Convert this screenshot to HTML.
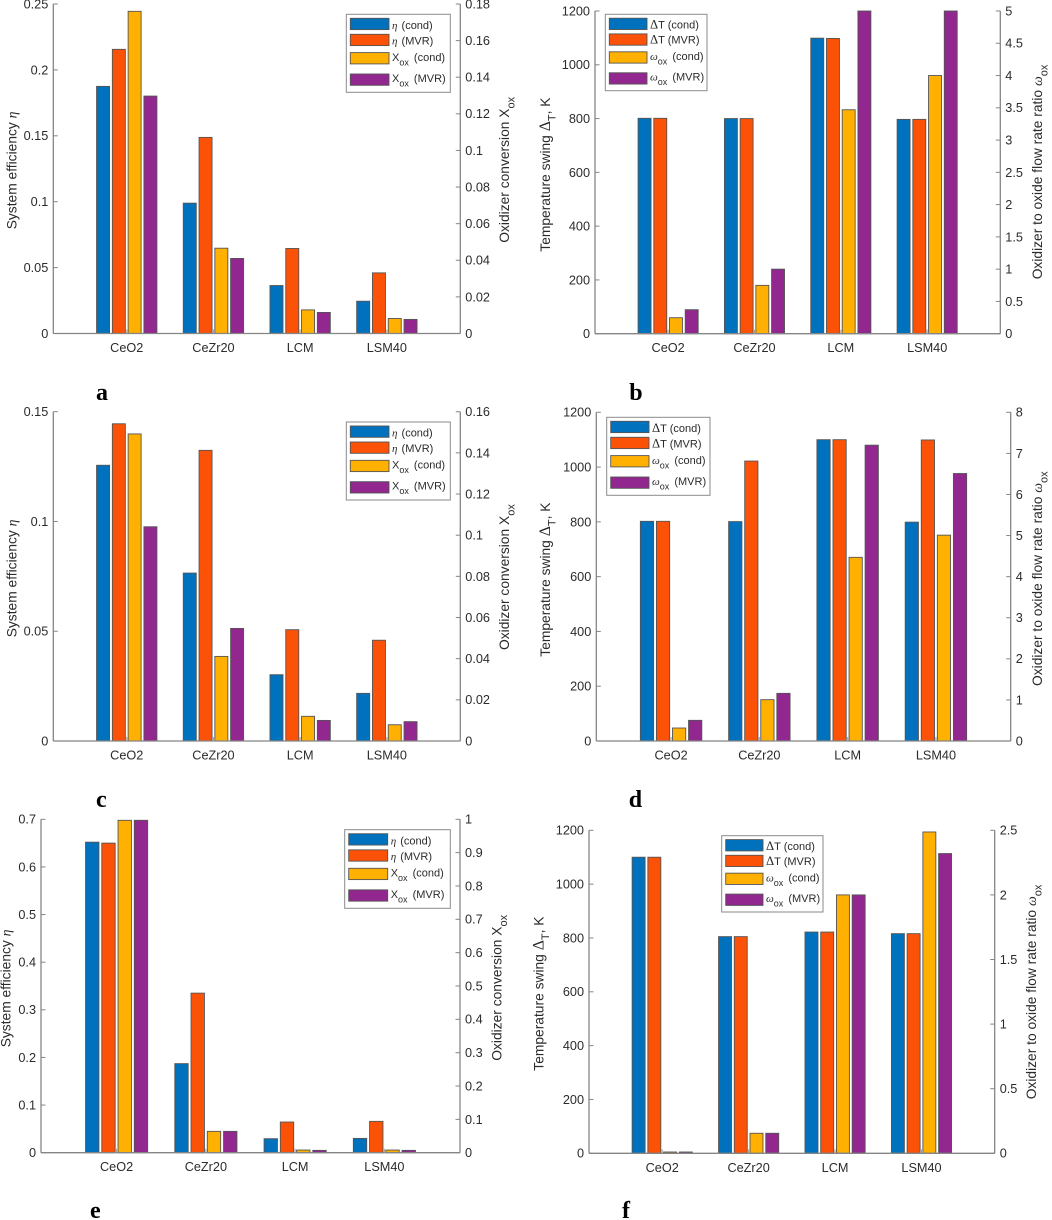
<!DOCTYPE html>
<html lang="en">
<head>
<meta charset="utf-8">
<title>Efficiency, oxidizer conversion, temperature swing and flow rate ratio by material</title>
<style>
html,body{margin:0;padding:0;background:#fff;}
#figure{display:block;width:1052px;height:1220px;font-family:"Liberation Sans",sans-serif;}
text{white-space:pre;}
</style>
</head>
<body>
<svg id="figure" xmlns="http://www.w3.org/2000/svg" width="1052" height="1220" viewBox="0 0 1052 1220"></svg>
<script>
const categories = ['CeO2', 'CeZr20', 'LCM', 'LSM40'];

const effTicksA = [0, 0.05, 0.1, 0.15, 0.2, 0.25];
const convTicksA = [0, 0.02, 0.04, 0.06, 0.08, 0.1, 0.12, 0.14, 0.16, 0.18];
const aEtaCond = [0.1875, 0.0989, 0.0364, 0.0245];
const aEtaMvr = [0.2156, 0.1488, 0.0645, 0.046];
const aXoxCond = [0.176, 0.0466, 0.0129, 0.0082];
const aXoxMvr = [0.1297, 0.041, 0.0115, 0.0077];

const swingTicksB = [0, 200, 400, 600, 800, 1000, 1200];
const ratioTicksB = [0, 0.5, 1, 1.5, 2, 2.5, 3, 3.5, 4, 4.5, 5];
const bDtCond = [801, 800, 1099, 797];
const bDtMvr = [801, 800, 1098, 797];
const bOmegaCond = [0.248, 0.749, 3.47, 4.0];
const bOmegaMvr = [0.372, 1.0, 5.0, 5.0];

const effTicksC = [0, 0.05, 0.1, 0.15];
const convTicksC = [0, 0.02, 0.04, 0.06, 0.08, 0.1, 0.12, 0.14, 0.16];
const cEtaCond = [0.1256, 0.0765, 0.0302, 0.0217];
const cEtaMvr = [0.1445, 0.1324, 0.0507, 0.0459];
const cXoxCond = [0.1492, 0.0411, 0.012, 0.0079];
const cXoxMvr = [0.1041, 0.0547, 0.01, 0.0094];

const swingTicksD = [0, 200, 400, 600, 800, 1000, 1200];
const ratioTicksD = [0, 1, 2, 3, 4, 5, 6, 7, 8];
const dDtCond = [802, 801, 1100, 799];
const dDtMvr = [802, 1022, 1100, 1099];
const dOmegaCond = [0.316, 1.006, 4.47, 5.01];
const dOmegaMvr = [0.503, 1.16, 7.2, 6.51];

const effTicksE = [0, 0.1, 0.2, 0.3, 0.4, 0.5, 0.6, 0.7];
const convTicksE = [0, 0.1, 0.2, 0.3, 0.4, 0.5, 0.6, 0.7, 0.8, 0.9, 1];
const eEtaCond = [0.652, 0.187, 0.0294, 0.03];
const eEtaMvr = [0.65, 0.335, 0.0644, 0.0658];
const eXoxCond = [0.997, 0.064, 0.008, 0.008];
const eXoxMvr = [0.997, 0.064, 0.007, 0.007];

const swingTicksF = [0, 200, 400, 600, 800, 1000, 1200];
const ratioTicksF = [0, 0.5, 1, 1.5, 2, 2.5];
const fDtCond = [1100, 805, 822, 816];
const fDtMvr = [1100, 805, 822, 816];
const fOmegaCond = [0.01, 0.155, 2.0, 2.487];
const fOmegaMvr = [0.01, 0.155, 2.0, 2.32];

const seriesColors = ['#0072bd', '#fb5207', '#ffb000', '#92278f'];
const NS = 'http://www.w3.org/2000/svg';
const svg = document.getElementById('figure');
const AXIS = '#858585';
const INK = '#2b2b2b';
const SANS = '"Liberation Sans",sans-serif';
const SERIF = '"Liberation Serif",serif';

function make(tag, parent, attrs) {
  const el = document.createElementNS(NS, tag);
  for (const key in attrs) el.setAttribute(key, attrs[key]);
  parent.appendChild(el);
  return el;
}

/* Segment kinds: s = sans, g = italic serif greek, u = upright serif symbol, b = subscript */
function rich(el, segs, size, subSize) {
  let lowered = false;
  segs.forEach(function (seg) {
    const t = make('tspan', el, {});
    const kind = seg[0];
    t.textContent = seg[1];
    t.setAttribute('font-size', kind === 'b' ? subSize : (kind === 'u' ? size * 1.15 : size));
    t.setAttribute('font-family', (kind === 'g' || kind === 'u') ? SERIF : SANS);
    if (kind === 'g') t.setAttribute('font-style', 'italic');
    if (kind === 'b' && !lowered) { t.setAttribute('dy', subSize * 0.5); lowered = true; }
    else if (kind !== 'b' && lowered) { t.setAttribute('dy', -subSize * 0.5); lowered = false; }
    if (seg[2]) t.setAttribute('dx', seg[2]);
  });
}

const effTitle = [['s', 'System efficiency '], ['g', 'η']];
const convTitle = [['s', 'Oxidizer conversion X'], ['b', 'ox']];
const swingTitle = [['s', 'Temperature swing '], ['u', 'Δ'], ['b', 'T'], ['s', ', K']];
const ratioTitle = [['s', 'Oxidizer to oxide flow rate ratio '], ['g', 'ω'], ['b', 'ox']];
const effLegend = [
  [['g', 'η'], ['s', ' (cond)', 1]],
  [['g', 'η'], ['s', ' (MVR)', 1]],
  [['s', 'X'], ['b', 'ox'], ['s', ' (cond)', 2]],
  [['s', 'X'], ['b', 'ox'], ['s', ' (MVR)', 2]]
];
const swingLegend = [
  [['u', 'Δ'], ['s', 'T (cond)']],
  [['u', 'Δ'], ['s', 'T (MVR)']],
  [['g', 'ω'], ['b', 'ox'], ['s', ' (cond)', 2]],
  [['g', 'ω'], ['b', 'ox'], ['s', ' (MVR)', 2]]
];

const panels = [
  { id: 'a', x0: 53.3, x1: 460.3, top: 4, bottom: 333.5,
    leftTicks: effTicksA, rightTicks: convTicksA,
    series: [aEtaCond, aEtaMvr, aXoxCond, aXoxMvr],
    leftTitle: effTitle, rightTitle: convTitle,
    leftPos: [16.5, 229.3], rightPos: [509, 242.7],
    legendRows: effLegend, legend: [346.3, 14.3, 104, 78, 38.7], letter: [96, 400] },
  { id: 'b', x0: 595, x1: 1000.3, top: 11, bottom: 333.7,
    leftTicks: swingTicksB, rightTicks: ratioTicksB,
    series: [bDtCond, bDtMvr, bOmegaCond, bOmegaMvr],
    leftTitle: swingTitle, rightTitle: ratioTitle,
    leftPos: [550, 251.7], rightPos: [1042, 279.3],
    legendRows: swingLegend, legend: [605.3, 14.3, 101.7, 76.4, 37.7], letter: [629.3, 400] },
  { id: 'c', x0: 53.3, x1: 460.3, top: 411.7, bottom: 741,
    leftTicks: effTicksC, rightTicks: convTicksC,
    series: [cEtaCond, cEtaMvr, cXoxCond, cXoxMvr],
    leftTitle: effTitle, rightTitle: convTitle,
    leftPos: [16.5, 637.3], rightPos: [509, 650],
    legendRows: effLegend, legend: [346.3, 422, 104, 78, 38.7], letter: [96, 807] },
  { id: 'd', x0: 596.3, x1: 1010.7, top: 412.3, bottom: 741,
    leftTicks: swingTicksD, rightTicks: ratioTicksD,
    series: [dDtCond, dDtMvr, dOmegaCond, dOmegaMvr],
    leftTitle: swingTitle, rightTitle: ratioTitle,
    leftPos: [550, 656.7], rightPos: [1042, 686],
    legendRows: swingLegend, legend: [606.7, 417.3, 103.3, 78, 38.3], letter: [628.7, 807] },
  { id: 'e', x0: 41, x1: 460, top: 819.3, bottom: 1152.7,
    leftTicks: effTicksE, rightTicks: convTicksE,
    series: [eEtaCond, eEtaMvr, eXoxCond, eXoxMvr],
    leftTitle: effTitle, rightTitle: convTitle,
    leftPos: [10.7, 1047.3], rightPos: [501.7, 1060.7],
    legendRows: effLegend, legend: [344.7, 829.7, 105.6, 78.6, 39], letter: [90, 1218] },
  { id: 'f', x0: 589, x1: 994.7, top: 830.3, bottom: 1153.3,
    leftTicks: swingTicksF, rightTicks: ratioTicksF,
    series: [fDtCond, fDtMvr, fOmegaCond, fOmegaMvr],
    leftTitle: swingTitle, rightTitle: ratioTitle,
    leftPos: [543.3, 1070.7], rightPos: [1036, 1099.3],
    legendRows: swingLegend, legend: [721.7, 835.7, 101.3, 76.3, 37.3], letter: [622, 1218] }
];

const XMIN = 0.153;
const XMAX = 4.847;
const BAR_PITCH = 0.182;
const BAR_WIDTH = 0.15;
const TICK_LEN = 4.5;
const TICK_FONT = 12.7;
const TITLE_FONT = 13.8;
const SWATCH_TOPS = [4, 20, 38.3, 59.7];
const SWATCH_H = 11.3;
const LEGEND_BASE = [14.6, 30, 46.6, 67.6];

panels.forEach(function (p) {
  const g = make('g', svg, {});
  
  

  const leftMax = p.leftTicks[p.leftTicks.length - 1];
  const rightMax = p.rightTicks[p.rightTicks.length - 1];
  const xScale = function (v) { return p.x0 + (v - XMIN) / (XMAX - XMIN) * (p.x1 - p.x0); };
  const yLeft = function (v) { return p.bottom - v / leftMax * (p.bottom - p.top); };
  const yRight = function (v) { return p.bottom - v / rightMax * (p.bottom - p.top); };

  /* bars: the first two series use the left axis, the last two use the right axis */
  p.series.forEach(function (values, s) {
    const yScale = s < 2 ? yLeft : yRight;
    values.forEach(function (v, c) {
      const cx = xScale(c + 1 + (s - 1.5) * BAR_PITCH);
      const left = cx - xScale(BAR_WIDTH / 2 + XMIN) + p.x0;
      const w = xScale(BAR_WIDTH + XMIN) - p.x0;
      const bar = make('rect', g, {
        x: left, y: yScale(v), width: w, height: p.bottom - yScale(v),
        fill: seriesColors[s], stroke: '#555', 'stroke-width': 0.9
      });
      
      
    });
  });

  /* axes */
  const leftAxis = make('line', g, { x1: p.x0, x2: p.x0, y1: p.top, y2: p.bottom, stroke: AXIS, 'stroke-width': 1.3 });
  
  
  const rightAxis = make('line', g, { x1: p.x1, x2: p.x1, y1: p.top, y2: p.bottom, stroke: AXIS, 'stroke-width': 1.3 });
  
  
  const baseAxis = make('line', g, { x1: p.x0, x2: p.x1, y1: p.bottom, y2: p.bottom, stroke: AXIS, 'stroke-width': 1.3 });
  
  

  p.leftTicks.forEach(function (v) {
    const y = yLeft(v);
    const tick = make('line', g, { x1: p.x0, x2: p.x0 + TICK_LEN, y1: y, y2: y, stroke: AXIS, 'stroke-width': 1 });
    
    
    const label = make('text', g, { x: p.x0 - 5, y: y + 4.4, 'text-anchor': 'end', 'font-size': TICK_FONT, fill: INK });
    label.textContent = String(v);
    
    
  });

  p.rightTicks.forEach(function (v) {
    const y = yRight(v);
    const tick = make('line', g, { x1: p.x1 - TICK_LEN, x2: p.x1, y1: y, y2: y, stroke: AXIS, 'stroke-width': 1 });
    
    
    const label = make('text', g, { x: p.x1 + 5, y: y + 4.4, 'font-size': TICK_FONT, fill: INK });
    label.textContent = String(v);
    
    
  });

  categories.forEach(function (name, c) {
    const x = xScale(c + 1);
    const tick = make('line', g, { x1: x, x2: x, y1: p.bottom - 4, y2: p.bottom, stroke: '#a0a0a0', 'stroke-width': 1 });
    
    
    const label = make('text', g, { x: x, y: p.bottom + 18.5, 'text-anchor': 'middle', 'font-size': TICK_FONT, fill: INK });
    label.textContent = name;
    
    
  });

  /* axis titles */
  const leftTitle = make('text', g, { transform: 'translate(' + p.leftPos[0] + ',' + p.leftPos[1] + ') rotate(-90)', fill: INK });
  rich(leftTitle, p.leftTitle, TITLE_FONT, 11);
  
  
  const rightTitle = make('text', g, { transform: 'translate(' + p.rightPos[0] + ',' + p.rightPos[1] + ') rotate(-90)', fill: INK });
  rich(rightTitle, p.rightTitle, TITLE_FONT, 11);
  
  

  /* legend */
  const L = p.legend;
  const lg = make('g', g, {});
  
  
  const box = make('rect', lg, { x: L[0], y: L[1], width: L[2], height: L[3], fill: '#fff', stroke: '#8a8a8a', 'stroke-width': 1 });
  
  
  const rowScale = L[3] / 78;
  p.legendRows.forEach(function (row, i) {
    const swatch = make('rect', lg, {
      x: L[0] + 4, y: L[1] + SWATCH_TOPS[i] * rowScale, width: L[4], height: SWATCH_H,
      fill: seriesColors[i], stroke: '#555', 'stroke-width': 0.9
    });
    
    
    const text = make('text', lg, { x: L[0] + L[4] + 7, y: L[1] + LEGEND_BASE[i] * rowScale, fill: INK });
    rich(text, row, 11, 9);
    
    
  });

  /* panel letter */
  const letter = make('text', g, {
    x: p.letter[0], y: p.letter[1], 'font-family': SERIF, 'font-weight': 'bold', 'font-size': 24, fill: '#000'
  });
  letter.textContent = p.id;
  
  
});
</script>
</body>
</html>
